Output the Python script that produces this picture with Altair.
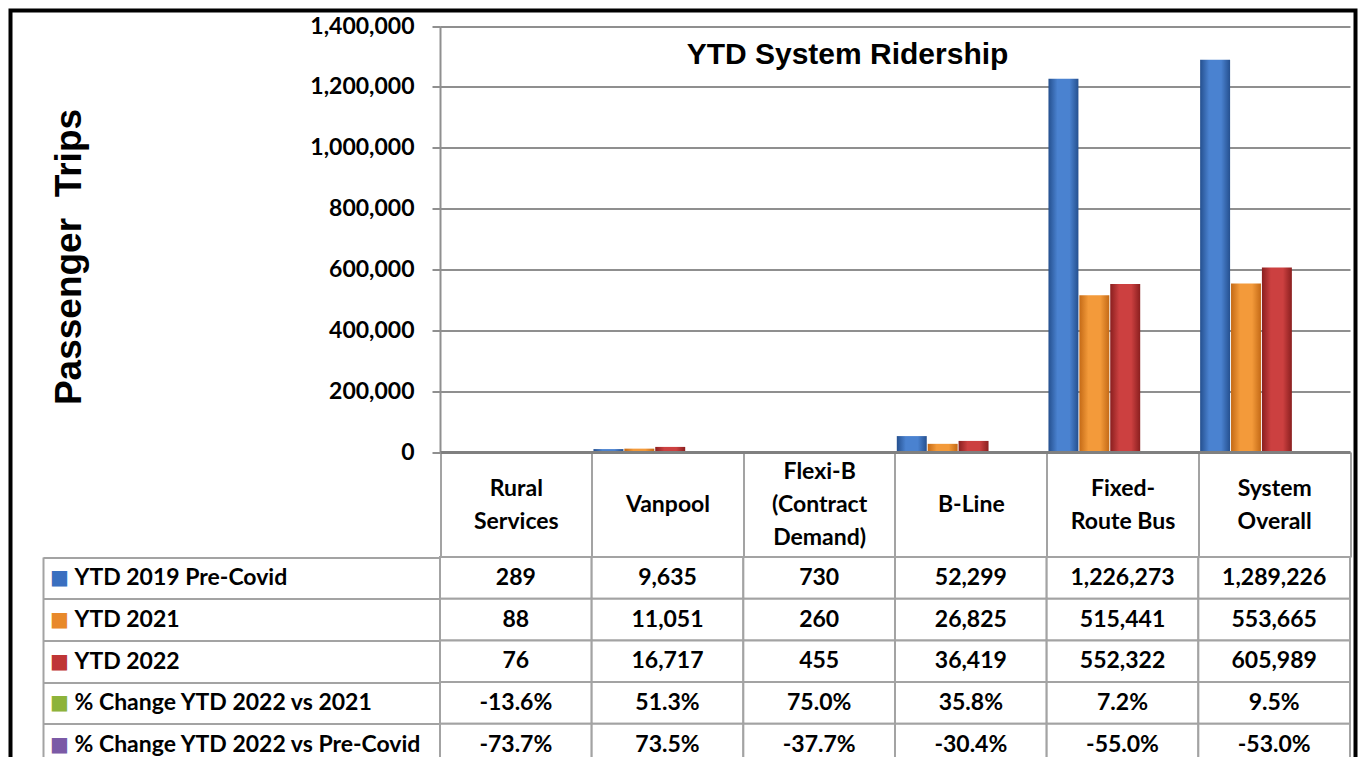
import altair as alt
import pandas as pd

# ---------------- data ----------------
categories = ["Rural\nServices", "Vanpool", "Flexi-B\n(Contract\nDemand)", "B-Line",
              "Fixed-\nRoute Bus", "System\nOverall"]
series = ["YTD 2019 Pre-Covid", "YTD 2021", "YTD 2022"]
ytd_2019 = [289, 9635, 730, 52299, 1226273, 1289226]
ytd_2021 = [88, 11051, 260, 26825, 515441, 553665]
ytd_2022 = [76, 16717, 455, 36419, 552322, 605989]
chg_vs_2021 = ["-13.6%", "51.3%", "75.0%", "35.8%", "7.2%", "9.5%"]
chg_vs_pre = ["-73.7%", "73.5%", "-37.7%", "-30.4%", "-55.0%", "-53.0%"]
row_labels = series + ["% Change YTD 2022 vs 2021", "% Change YTD 2022 vs Pre-Covid"]
row_colors = ["#3a6fbf", "#e8892a", "#bf3636", "#8db33a", "#7b5aa6"]
y_ticks = [0, 200000, 400000, 600000, 800000, 1000000, 1200000, 1400000]

# ---------------- tables built from the arrays ----------------
bar_rows = []
for s, vals in zip(series, [ytd_2019, ytd_2021, ytd_2022]):
    for c, v in zip(categories, vals):
        bar_rows.append({"category": c, "series": s, "value": v})
bars_df = pd.DataFrame(bar_rows)

tab_rows = []
row_values = [
    [f"{v:,}" for v in ytd_2019],
    [f"{v:,}" for v in ytd_2021],
    [f"{v:,}" for v in ytd_2022],
    chg_vs_2021,
    chg_vs_pre,
]
for r, vals in zip(row_labels, row_values):
    for c, v in zip(categories, vals):
        tab_rows.append({"category": c, "row": r, "display": v})
table_df = pd.DataFrame(tab_rows)

# ---------------- layout constants ----------------
PAD_L, PAD_T = 10.5, 10.5
W, H = 1345, 780
X0, X1 = 429.5, 1339.5
Y_ZERO, Y_TOP = 441.5, 15.5
HEADER_H = 105
LINE_H = 33
ROW_H = 41.7
TABLE_TOP = Y_ZERO + HEADER_H
GRID = "#8f8f8f"
LINE = "#a3a3a3"
FONT = "Lato"

nlines = "length(split(datum.value, '\\n'))"
header_pad = {
    "condition": [
        {"test": f"isValid(datum.value) && {nlines} == 3", "value": -HEADER_H / 2 - LINE_H},
        {"test": f"isValid(datum.value) && {nlines} == 2", "value": -HEADER_H / 2 - LINE_H / 2},
    ],
    "value": -HEADER_H / 2,
}

x_enc = alt.X(
    "category:N", sort=categories,
    scale=alt.Scale(domain=categories, range=[X0, X1], paddingInner=0, paddingOuter=0),
    axis=alt.Axis(
        orient="bottom", offset=Y_ZERO - H, tickBand="extent", ticks=True,
        tickSize=HEADER_H, tickColor=LINE, tickWidth=2,
        domain=True, domainColor="#808080", domainWidth=3,
        labelExpr="isValid(datum.value) ? split(datum.value, '\\n') : ''",
        labelFont=FONT, labelFontSize=23,
        labelFontWeight="bold", labelColor="black", labelPadding=header_pad,
        labelBaseline="middle", labelLineHeight=LINE_H, labelAngle=0, labelAlign="center",
        labelOverlap=False, labelFlush=False, grid=False, title=None, zindex=1,
    ),
)

y_val = alt.Y(
    "value:Q",
    scale=alt.Scale(domain=[0, 1400000], range=[Y_ZERO, Y_TOP], nice=False, zero=True),
    axis=alt.Axis(
        orient="left", offset=-X0, values=y_ticks,
        labelExpr="format(datum.value, ',')",
        domain=True, domainColor=GRID, domainWidth=2,
        ticks=True, tickSize=8, tickColor=GRID, tickWidth=2,
        labelFont=FONT, labelFontSize=23, labelFontWeight="bold", labelColor="black",
        labelPadding=18, labelBaseline="middle",
        grid=True, gridColor=GRID, gridWidth=2,
        title="Passenger\u00a0 Trips", titleFont="Liberation Sans", titleFontSize=37,
        titleFontWeight="bold", titleColor="black", titleAngle=270,
        titleX=-360, titleY=246, titleAlign="center", titleBaseline="alphabetic",
    ),
)

x_off = alt.XOffset(
    "series:N", sort=series,
    scale=alt.Scale(domain=series, paddingInner=0.03, paddingOuter=0.97, align=0.03),
)

grads = [
    ["#25508f", "#4a82d0", "#4a82d0", "#25508f"],
    ["#c46a16", "#f39a3a", "#f39a3a", "#c46a16"],
    ["#8a1f1f", "#cc4040", "#cc4040", "#8a1f1f"],
]
bar_layers = []
for s, g in zip(series, grads):
    grad = alt.LinearGradient(
        gradient="linear", x1=0, x2=1, y1=0, y2=0,
        stops=[alt.GradientStop(color=g[0], offset=0), alt.GradientStop(color=g[1], offset=0.3),
               alt.GradientStop(color=g[2], offset=0.7), alt.GradientStop(color=g[3], offset=1)],
    )
    bar_layers.append(
        alt.Chart(bars_df).transform_filter(alt.datum.series == s)
        .mark_bar(color=grad).encode(x=x_enc, xOffset=x_off, y=y_val)
    )
bars = alt.layer(*bar_layers)

row_scale = alt.Scale(domain=row_labels, range=[TABLE_TOP, TABLE_TOP + 5 * ROW_H],
                      paddingInner=0, paddingOuter=0)

square_color = {
    "condition": [{"test": f"datum.value === '{r}'", "value": c}
                  for r, c in zip(row_labels, row_colors)],
    "value": "black",
}

cells = alt.Chart(table_df).mark_rect(fill="white", stroke=LINE, strokeWidth=2).encode(
    x=x_enc,
    y=alt.Y("row:N", sort=row_labels, scale=row_scale, axis=alt.Axis(
        orient="left", offset=-X0, tickBand="extent", ticks=True, tickSize=397,
        tickColor=LINE, tickWidth=2, domain=False,
        labelExpr="isValid(datum.value) ? '\u25a0' : ''", labelFont="DejaVu Sans",
        labelFontSize=20,
        labelAlign="center", labelBaseline="middle", labelPadding=-16,
        labelColor=square_color, grid=False, title=None,
    )),
)

texts = alt.Chart(table_df).mark_text(
    font=FONT, fontWeight="bold", fontSize=23, color="black", baseline="middle"
).encode(
    x=x_enc,
    y=alt.Y("row:N", sort=row_labels, scale=row_scale, axis=alt.Axis(
        orient="left", offset=-32.5, ticks=False, tickSize=0,
        domain=True, domainColor=LINE, domainWidth=2,
        labelAlign="left", labelBaseline="middle", labelPadding=-31,
        labelFont=FONT, labelFontSize=23, labelFontWeight="bold", labelColor="black",
        labelLimit=500, grid=False, title=None,
    )),
    text="display:N",
)

chart = alt.layer(bars, cells, texts).resolve_scale(y="independent").properties(
    width=W, height=H,
    padding={"left": PAD_L, "top": PAD_T, "right": 1361 - PAD_L - W, "bottom": 757 - PAD_T - H},
    autosize=alt.AutoSizeParams(type="none"),
    title=alt.TitleParams(
        "YTD System Ridership", font="Liberation Sans", fontSize=30, fontWeight="bold",
        color="black", anchor="middle", frame="group", offset=-61, dx=164.5, dy=32.5,
        baseline="alphabetic",
    ),
).configure_view(stroke="black", strokeWidth=4)

chart.save("out.html", embed_options={"renderer": "svg", "actions": False})
